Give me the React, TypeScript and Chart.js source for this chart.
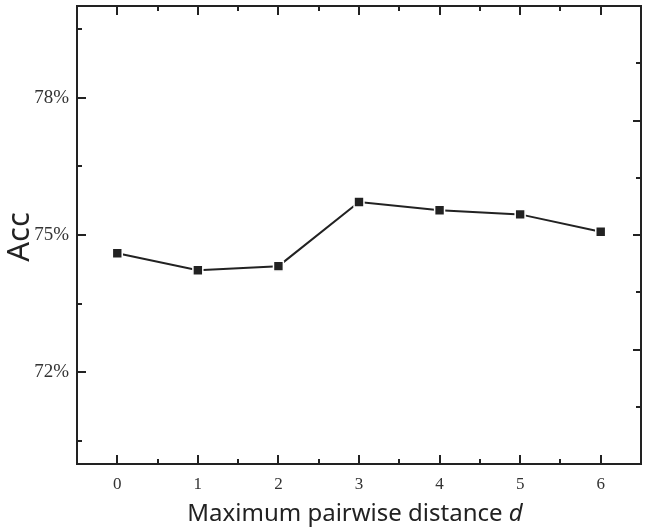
import { useEffect, useRef } from 'react';
import { Chart, registerables } from 'chart.js';

Chart.register(...registerables);

// ---- data ----
const distances = [0, 1, 2, 3, 4, 5, 6];
const accuracy = [74.6, 74.23, 74.32, 75.72, 75.54, 75.45, 75.07];
const yLabelTicks = [72, 75, 78];
const yMinorTicks = [70.5, 73.5, 76.5, 79.5];
const rightMajorTicks = [72.5, 75, 77.5];
const rightMinorTicks = [71.25, 73.75, 76.25, 78.75];
const xMinorTicks = [0.5, 1.5, 2.5, 3.5, 4.5, 5.5];
const yAxisTitle = 'Acc';
const xAxisTitle = 'Maximum pairwise distance ';
const xAxisVariable = 'd';

const INK = '#222222';
const SANS = '"Noto Sans", "Open Sans", sans-serif';
const SERIF = '"Liberation Serif", "DejaVu Serif", serif';

const framePlugin = {
  id: 'frameTicks',
  afterDraw(chart: any) {
    const { ctx, chartArea: a, scales } = chart;
    const xs = scales.x;
    const ys = scales.y;
    ctx.save();
    ctx.strokeStyle = INK;
    ctx.lineWidth = 2;
    ctx.strokeRect(a.left, a.top, a.right - a.left, a.bottom - a.top);
    ctx.beginPath();
    const seg = (x1: number, y1: number, x2: number, y2: number) => {
      ctx.moveTo(x1, y1);
      ctx.lineTo(x2, y2);
    };
    distances.forEach((v) => {
      const px = Math.round(xs.getPixelForValue(v));
      seg(px, a.bottom, px, a.bottom - 9);
      seg(px, a.top, px, a.top + 9);
    });
    xMinorTicks.forEach((v) => {
      const px = Math.round(xs.getPixelForValue(v));
      seg(px, a.bottom, px, a.bottom - 5);
      seg(px, a.top, px, a.top + 5);
    });
    yLabelTicks.forEach((v) => {
      const py = Math.round(ys.getPixelForValue(v));
      seg(a.left, py, a.left + 9, py);
    });
    yMinorTicks.forEach((v) => {
      const py = Math.round(ys.getPixelForValue(v));
      seg(a.left, py, a.left + 5, py);
    });
    rightMajorTicks.forEach((v) => {
      const py = Math.round(ys.getPixelForValue(v));
      seg(a.right, py, a.right - 8, py);
    });
    rightMinorTicks.forEach((v) => {
      const py = Math.round(ys.getPixelForValue(v));
      seg(a.right, py, a.right - 5, py);
    });
    ctx.stroke();

    // y-axis title
    ctx.fillStyle = INK;
    ctx.font = `31px ${SANS}`;
    ctx.textAlign = 'center';
    ctx.textBaseline = 'alphabetic';
    ctx.save();
    ctx.translate(29, (a.top + a.bottom) / 2 + 2);
    ctx.rotate(-Math.PI / 2);
    ctx.fillText(yAxisTitle, 0, 0);
    ctx.restore();

    // x-axis title with italic variable
    ctx.textAlign = 'left';
    const normalFont = `24px ${SANS}`;
    const italicFont = `italic 24px ${SANS}`;
    ctx.font = normalFont;
    const w1 = ctx.measureText(xAxisTitle).width;
    ctx.font = italicFont;
    const w2 = ctx.measureText(xAxisVariable).width;
    const cx = (a.left + a.right) / 2 - 4;
    const startX = cx - (w1 + w2) / 2;
    const baseY = 521;
    ctx.font = normalFont;
    ctx.fillText(xAxisTitle, startX, baseY);
    ctx.font = italicFont;
    ctx.fillText(xAxisVariable, startX + w1, baseY);
    ctx.restore();
  },
};

export default function App() {
  const canvasRef = useRef<HTMLCanvasElement | null>(null);

  useEffect(() => {
    document.body.style.margin = '0';
    document.body.style.overflow = 'hidden';
    const canvas = canvasRef.current;
    if (!canvas) return;
    const chart = new Chart(canvas, {
      type: 'line',
      data: {
        datasets: [
          {
            data: distances.map((d, i) => ({ x: d, y: accuracy[i] })),
            borderColor: INK,
            borderWidth: 2,
            backgroundColor: INK,
            pointStyle: 'rect',
            pointRadius: 7,
            pointBorderColor: '#ffffff',
            pointBorderWidth: 1.5,
            pointBackgroundColor: INK,
            tension: 0,
            fill: false,
          },
        ],
      },
      options: {
        responsive: false,
        animation: false,
        events: [],
        layout: { autoPadding: false, padding: { top: 6, right: 7, left: 0, bottom: 0 } },
        plugins: {
          legend: { display: false },
          tooltip: { enabled: false },
        },
        scales: {
          x: {
            type: 'linear',
            min: -0.5,
            max: 6.5,
            grid: { display: false, drawTicks: false },
            border: { display: false },
            afterBuildTicks: (scale: any) => {
              scale.ticks = distances.map((v) => ({ value: v }));
            },
            afterFit: (scale: any) => {
              scale.height = 67;
              scale.paddingLeft = 0;
              scale.paddingRight = 0;
            },
            ticks: {
              padding: 10,
              color: '#333333',
              font: { family: SERIF, size: 17 },
              callback: (v: any) => String(v),
            },
          },
          y: {
            type: 'linear',
            min: 70,
            max: 80,
            grid: { display: false, drawTicks: false },
            border: { display: false },
            afterBuildTicks: (scale: any) => {
              scale.ticks = yLabelTicks.map((v) => ({ value: v }));
            },
            afterFit: (scale: any) => {
              scale.width = 77;
              scale.paddingTop = 0;
              scale.paddingBottom = 0;
            },
            ticks: {
              padding: 8,
              color: '#333333',
              font: { family: SERIF, size: 19 },
              callback: (v: any) => `${v}%`,
            },
          },
        },
      },
      plugins: [framePlugin],
    });
    return () => chart.destroy();
  }, []);

  return (
    <div style={{ width: 648, height: 531 }}>
      <canvas ref={canvasRef} width={648} height={531} style={{ display: 'block' }} />
    </div>
  );
}
